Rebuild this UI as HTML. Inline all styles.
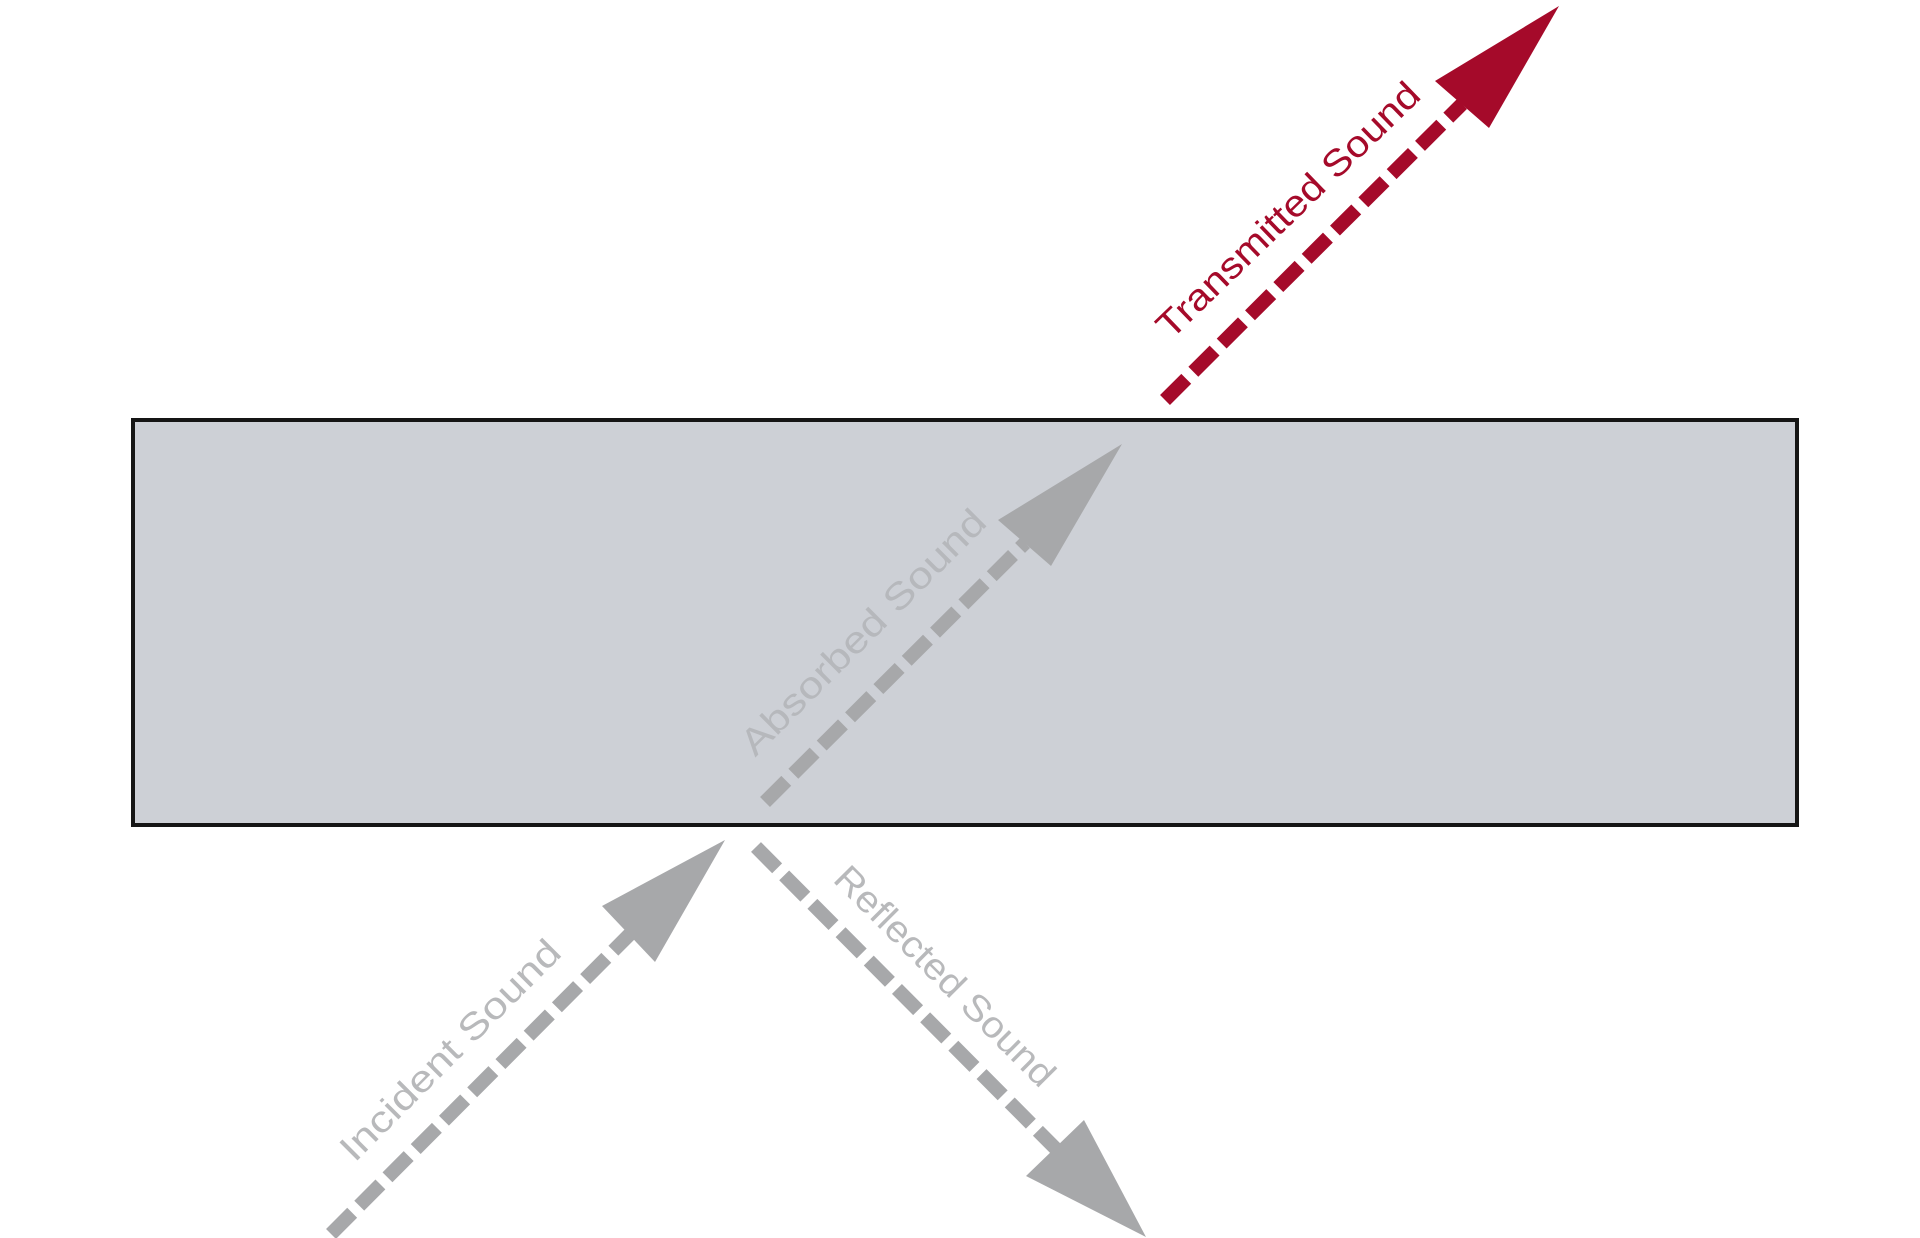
<!DOCTYPE html>
<html><head><meta charset="utf-8"><style>
html,body{margin:0;padding:0;background:#fff;}
svg{display:block;}
text{font-family:"Liberation Sans Narrow","Liberation Sans",sans-serif;}
</style></head><body>
<svg width="1920" height="1238" viewBox="0 0 1920 1238" xmlns="http://www.w3.org/2000/svg">
<rect x="133" y="420" width="1664" height="405" fill="#cdd0d6" stroke="#151515" stroke-width="4"/>
<!-- Transmitted -->
<line x1="1165" y1="400" x2="1462" y2="104" stroke="#a50a2a" stroke-width="14" stroke-dasharray="30,10"/>
<polygon points="1559,6 1435,81 1489,128" fill="#a50a2a"/>
<text x="0" y="0" transform="translate(1290,212) rotate(-44)" text-anchor="middle" dominant-baseline="middle" font-size="37" fill="#a50a2a" textLength="350" lengthAdjust="spacingAndGlyphs">Transmitted Sound</text>
<!-- Absorbed -->
<line x1="765" y1="802" x2="1025" y2="543" stroke="#a7a8aa" stroke-width="14" stroke-dasharray="30,10"/>
<polygon points="1122,444 998,520 1051,566" fill="#a7a8aa"/>
<text x="0" y="0" transform="translate(865,634) rotate(-45)" text-anchor="middle" dominant-baseline="middle" font-size="37" fill="#b6b8bc" textLength="330" lengthAdjust="spacingAndGlyphs">Absorbed Sound</text>
<!-- Incident -->
<line x1="331" y1="1234" x2="630" y2="934" stroke="#a7a8aa" stroke-width="14" stroke-dasharray="30,10"/>
<polygon points="725,840 602,906 655,962" fill="#a7a8aa"/>
<text x="0" y="0" transform="translate(452,1052) rotate(-45)" text-anchor="middle" dominant-baseline="middle" font-size="37" fill="#b8b9bb" textLength="295" lengthAdjust="spacingAndGlyphs">Incident Sound</text>
<!-- Reflected -->
<line x1="756" y1="847" x2="1057" y2="1150" stroke="#a7a8aa" stroke-width="14" stroke-dasharray="30,10"/>
<polygon points="1146,1237 1026,1176 1084,1120" fill="#a7a8aa"/>
<text x="0" y="0" transform="translate(943,978) rotate(45)" text-anchor="middle" dominant-baseline="middle" font-size="37" fill="#b8b9bb" textLength="295" lengthAdjust="spacingAndGlyphs">Reflected Sound</text>
</svg>
</body></html>
